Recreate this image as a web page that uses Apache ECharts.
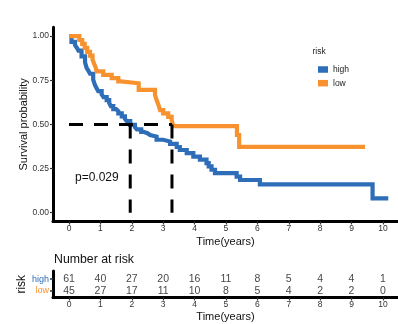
<!DOCTYPE html>
<html>
<head>
<meta charset="utf-8">
<script src="https://cdn.jsdelivr.net/npm/echarts@6/dist/echarts.min.js"></script>
<style>html,body{margin:0;padding:0;background:#fff}#c{width:398px;height:324px}</style>
</head>
<body>
<div id="c"></div>
<script>
// ---- data ----
const highTime = [0, 0.08, 0.19, 0.25, 0.30, 0.40, 0.51, 0.56, 0.62, 0.67, 0.77, 0.83, 0.88, 0.93, 1.04, 1.10, 1.20, 1.28, 1.33, 1.41, 1.50, 1.57, 1.68, 1.78, 1.84, 1.95, 2.10, 2.16, 2.30, 2.37, 2.50, 2.58, 2.79, 3.00, 3.22, 3.43, 3.53, 3.75, 3.96, 4.17, 4.38, 4.45, 4.54, 4.65, 5.34, 5.45, 6.08, 9.67, 10.17];
const highSurv = [1.0, 0.967, 0.951, 0.934, 0.918, 0.885, 0.852, 0.820, 0.803, 0.787, 0.754, 0.721, 0.705, 0.688, 0.670, 0.654, 0.638, 0.621, 0.604, 0.586, 0.575, 0.563, 0.545, 0.532, 0.519, 0.497, 0.484, 0.472, 0.458, 0.450, 0.440, 0.431, 0.413, 0.403, 0.390, 0.372, 0.355, 0.337, 0.318, 0.300, 0.281, 0.262, 0.243, 0.224, 0.204, 0.185, 0.160, 0.081, 0.081];
const lowTime = [0, 0.33, 0.42, 0.50, 0.58, 0.67, 0.75, 0.80, 0.85, 0.88, 1.09, 1.36, 1.57, 1.65, 2.22, 2.74, 2.79, 2.85, 2.90, 3.00, 3.16, 3.27, 3.32, 5.35, 5.42, 9.43];
const lowSurv = [1.0, 0.978, 0.956, 0.933, 0.911, 0.889, 0.867, 0.844, 0.822, 0.800, 0.781, 0.762, 0.744, 0.733, 0.695, 0.665, 0.638, 0.610, 0.581, 0.563, 0.543, 0.525, 0.490, 0.440, 0.373, 0.373];
const medianTimes = [1.95, 3.28];   // high, low
const medianLevel = 0.5;
const pValueText = 'p=0.029';
const riskTimes = [0, 1, 2, 3, 4, 5, 6, 7, 8, 9, 10];
const riskHigh = [61, 40, 27, 20, 16, 11, 8, 5, 4, 4, 1];
const riskLow = [45, 27, 17, 11, 10, 8, 5, 4, 2, 2, 0];
const xTicks = [0, 1, 2, 3, 4, 5, 6, 7, 8, 9, 10];
const yTicks = [0, 0.25, 0.5, 0.75, 1];
const groups = ['high', 'low'];

// ---- styling ----
const BLUE = '#2E6DB8';
const ORANGE = '#F7922F';
const FONT = 'Liberation Sans, Arial, sans-serif';

const chart = echarts.init(document.getElementById('c'), null, {renderer: 'canvas'});

const xCommon = {
  type: 'value', min: -0.51, max: 10.48,
  splitLine: {show: false},
  axisLine: {show: true, onZero: false, lineStyle: {color: '#000', width: 3}},
  axisTick: {show: true, customValues: xTicks, length: 3, lineStyle: {color: '#333', width: 1.2}},
  axisLabel: {customValues: xTicks, fontSize: 8.5, color: '#333', margin: 3, fontFamily: FONT},
  name: 'Time(years)', nameLocation: 'middle', nameMoveOverlap: false,
  nameTextStyle: {fontSize: 11, color: '#111', fontFamily: FONT}
};

const option = {
  animation: false,
  backgroundColor: '#fff',
  textStyle: {fontFamily: FONT},
  grid: [
    {left: 53, right: 0, top: 27.3, height: 194.2, containLabel: false, outerBoundsMode: 'none'},
    {left: 53, right: 0, top: 271, height: 26.5, containLabel: false, outerBoundsMode: 'none'}
  ],
  xAxis: [
    Object.assign({}, xCommon, {gridIndex: 0, nameGap: 14.5}),
    Object.assign({}, xCommon, {gridIndex: 1, nameGap: 13.5})
  ],
  yAxis: [
    {
      gridIndex: 0, type: 'value', min: -0.05, max: 1.05,
      splitLine: {show: false},
      axisLine: {show: true, onZero: false, lineStyle: {color: '#000', width: 3}},
      axisTick: {show: true, customValues: yTicks, length: 3, lineStyle: {color: '#333', width: 1.2}},
      axisLabel: {customValues: yTicks, fontSize: 8.5, color: '#333', margin: 4,
        formatter: v => Number(v).toFixed(2)},
      name: 'Survival probability', nameLocation: 'middle', nameGap: 24, nameMoveOverlap: false,
      nameTextStyle: {fontSize: 11, color: '#111'}
    },
    {
      gridIndex: 1, type: 'value', min: -0.6, max: 1.72,
      splitLine: {show: false},
      axisLine: {show: true, onZero: false, lineStyle: {color: '#000', width: 3}},
      axisTick: {show: true, customValues: [0, 1], length: 3, lineStyle: {color: '#333', width: 1.5}},
      axisLabel: {customValues: [0, 1], margin: 4, fontSize: 9,
        formatter: v => (v === 1 ? '{h|' + groups[0] + '}' : '{l|' + groups[1] + '}'),
        rich: {h: {color: BLUE, fontSize: 9}, l: {color: ORANGE, fontSize: 9}}},
      name: 'risk', nameLocation: 'middle', nameGap: 25, nameMoveOverlap: false,
      nameTextStyle: {fontSize: 12, color: '#111'}
    }
  ],
  legend: {
    data: groups, orient: 'vertical', left: 313, top: 59.5,
    icon: 'rect', itemWidth: 10, itemHeight: 6.5, itemGap: 3.7,
    textStyle: {fontSize: 8.5, color: '#222', lineHeight: 10},
    selectedMode: false
  },
  graphic: [
    {type: 'text', left: 312.5, top: 47, style: {text: 'risk', fontSize: 8.5, fill: '#222', fontFamily: FONT}},
    {type: 'text', left: 75, top: 171.5, style: {text: pValueText, fontSize: 12, fill: '#111', fontFamily: FONT}},
    {type: 'text', left: 54, top: 253.5, style: {text: 'Number at risk', fontSize: 12.3, fill: '#111', fontFamily: FONT}}
  ],
  series: [
    {
      name: groups[0], type: 'line', step: 'end', xAxisIndex: 0, yAxisIndex: 0,
      symbol: 'none', color: BLUE, itemStyle: {color: BLUE},
      lineStyle: {color: BLUE, width: 4.2, join: 'miter', cap: 'butt'},
      data: highTime.map((t, i) => [t, highSurv[i]]), z: 2
    },
    {
      name: groups[1], type: 'line', step: 'end', xAxisIndex: 0, yAxisIndex: 0,
      symbol: 'none', color: ORANGE, itemStyle: {color: ORANGE},
      lineStyle: {color: ORANGE, width: 4.2, join: 'miter', cap: 'butt'},
      data: lowTime.map((t, i) => [t, lowSurv[i]]), z: 3
    },
    {
      name: 'medianH', type: 'line', xAxisIndex: 0, yAxisIndex: 0, symbol: 'none', z: 5,
      lineStyle: {color: '#000', width: 3, type: [14, 11], cap: 'butt'},
      data: [[0, medianLevel], [medianTimes[1], medianLevel]]
    },
    {
      name: 'medianV1', type: 'line', xAxisIndex: 0, yAxisIndex: 0, symbol: 'none', z: 5,
      lineStyle: {color: '#000', width: 3, type: [14, 11], cap: 'butt'},
      data: [[medianTimes[0], medianLevel], [medianTimes[0], 0]]
    },
    {
      name: 'medianV2', type: 'line', xAxisIndex: 0, yAxisIndex: 0, symbol: 'none', z: 5,
      lineStyle: {color: '#000', width: 3, type: [14, 11], cap: 'butt'},
      data: [[medianTimes[1], medianLevel], [medianTimes[1], 0]]
    },
    {
      name: 'nHigh', type: 'scatter', xAxisIndex: 1, yAxisIndex: 1, symbolSize: 1,
      itemStyle: {color: 'rgba(0,0,0,0)'},
      label: {show: true, position: 'inside', formatter: p => String(p.value[2]), fontSize: 10.5, color: '#111'},
      data: riskTimes.map((t, i) => [t, 1, riskHigh[i]])
    },
    {
      name: 'nLow', type: 'scatter', xAxisIndex: 1, yAxisIndex: 1, symbolSize: 1,
      itemStyle: {color: 'rgba(0,0,0,0)'},
      label: {show: true, position: 'inside', formatter: p => String(p.value[2]), fontSize: 10.5, color: '#111'},
      data: riskTimes.map((t, i) => [t, 0, riskLow[i]])
    }
  ]
};
chart.setOption(option);
</script>
</body>
</html>
